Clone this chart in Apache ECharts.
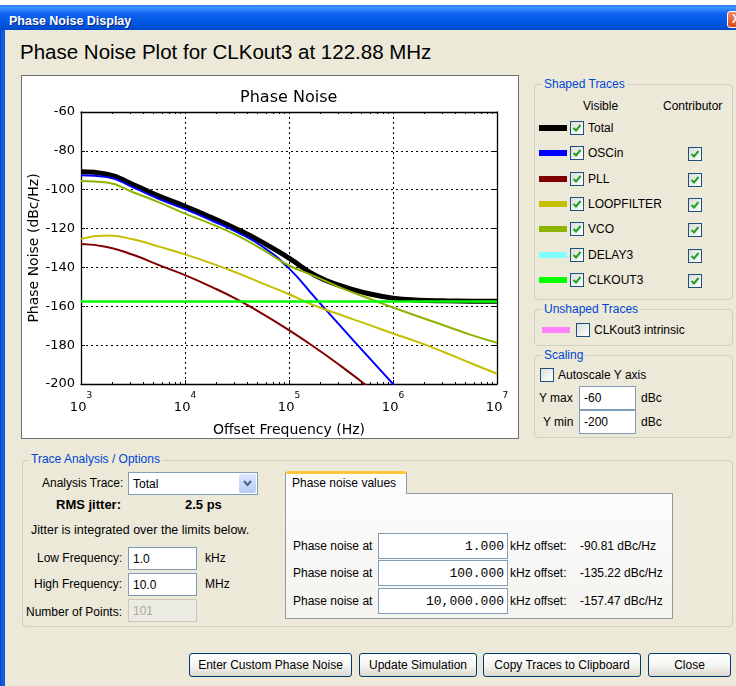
<!DOCTYPE html>
<html>
<head>
<meta charset="utf-8">
<script src="https://cdn.jsdelivr.net/npm/echarts@6/dist/echarts.min.js"></script>
<style>
body{margin:0;width:736px;height:686px;overflow:hidden;background:#ece9d8;position:relative;font-family:'Liberation Sans',Arial,sans-serif;font-size:12px;color:#000}
.a{position:absolute}
.t{position:absolute;white-space:nowrap;line-height:14px;height:14px}
.g{position:absolute;border:1px solid #d0d0bf;border-radius:4px;box-sizing:border-box}
.gt{position:absolute;white-space:nowrap;line-height:14px;background:#ece9d8;color:#0046d5;padding:0 2px}
.cb{position:absolute;width:12px;height:12px;border:1px solid #1c5180;background:linear-gradient(135deg,#dcdcd7,#ffffff)}
.cb svg{position:absolute;left:0;top:0}
.in{position:absolute;box-sizing:border-box;background:#fff;border:1px solid #7f9db9;display:flex;align-items:center;padding-left:4px;white-space:nowrap}
.mono{font-family:'Liberation Mono','DejaVu Sans Mono',monospace;font-size:13px;justify-content:flex-end;padding-right:3px;padding-left:0}
.bt{position:absolute;box-sizing:border-box;height:24px;border:1px solid #003c74;border-radius:3px;background:linear-gradient(#ffffff,#f4f4f0 55%,#dcd7cb);display:flex;align-items:center;justify-content:center;white-space:nowrap}
.sw{position:absolute;width:28px;height:6px}
</style>
</head>
<body>
<div class="a" style="left:0;top:0;width:736px;height:5px;background:#fff"></div>
<div class="a" style="left:0;top:5px;width:736px;height:25px;background:linear-gradient(#2a7af5 0%,#3d95ff 10%,#0f62ee 35%,#0058e6 65%,#0050d8 88%,#0046c4 100%)"></div>
<div class="a" style="left:0;top:30px;width:5px;height:656px;background:linear-gradient(90deg,#0046c4,#1c63e6 60%,#0a50d0)"></div>
<div class="t" style="left:9px;top:14px;color:#fff;font-weight:bold;font-size:12.5px;text-shadow:1px 1px 0 #0a2a80">Phase Noise Display</div>
<div class="a" style="left:727px;top:11px;width:21px;height:17px;box-sizing:border-box;border:1px solid #fff;border-radius:3px;background:linear-gradient(#f08a6a,#d8481e);color:#fff;font-weight:bold;font-size:12px;line-height:15px;padding-left:4px">X</div>

<div class="t" style="left:20px;top:41px;height:22px;line-height:22px;font-size:20.5px">Phase Noise Plot for CLKout3 at 122.88 MHz</div>

<div class="a" style="left:21px;top:75px;width:496px;height:362px;border:1px solid #6e6e6e;background:#fff"></div>
<div id="chart" class="a" style="left:22px;top:76px;width:496px;height:362px"></div>

<!-- Right panel -->
<div class="g" style="left:534px;top:84px;width:199px;height:216px"></div>
<div class="gt" style="left:542px;top:77px">Shaped Traces</div>
<div class="t" style="left:583px;top:99px">Visible</div>
<div class="t" style="left:663px;top:99px">Contributor</div>
<div id="legendRows"></div>

<div class="g" style="left:534px;top:309px;width:199px;height:37px"></div>
<div class="gt" style="left:542px;top:302px">Unshaped Traces</div>

<div class="g" style="left:534px;top:355px;width:199px;height:83px"></div>
<div class="gt" style="left:542px;top:348px">Scaling</div>
<div class="cb" style="left:540px;top:368px"></div>
<div class="t" style="left:558px;top:368px">Autoscale Y axis</div>
<div class="t" style="left:539px;top:391px">Y max</div>
<div class="in" style="left:579px;top:386px;width:57px;height:24px">-60</div>
<div class="t" style="left:641px;top:391px">dBc</div>
<div class="t" style="left:543px;top:415px">Y min</div>
<div class="in" style="left:579px;top:410px;width:57px;height:24px">-200</div>
<div class="t" style="left:641px;top:415px">dBc</div>

<!-- Bottom panel -->
<div class="g" style="left:22px;top:460px;width:711px;height:167px"></div>
<div class="gt" style="left:29px;top:452px">Trace Analysis / Options</div>
<div class="t" style="left:42px;top:476px">Analysis Trace:</div>
<div class="in" style="left:128px;top:472px;width:130px;height:23px">Total</div>
<div class="a" style="left:239px;top:474px;width:17px;height:19px;border-radius:2px;background:linear-gradient(#dbe6fd,#b6cbf7)"><svg width="17" height="19"><polyline points="5,7 8.5,11 12,7" fill="none" stroke="#4d6185" stroke-width="2"/></svg></div>
<div class="t" style="left:56px;top:498px;font-weight:bold;font-size:13px">RMS jitter:</div>
<div class="t" style="left:185px;top:498px;font-weight:bold;font-size:13px">2.5 ps</div>
<div class="t" style="left:31px;top:523px;font-size:12.5px">Jitter is integrated over the limits below.</div>
<div class="t" style="left:37px;top:551px">Low Frequency:</div>
<div class="in" style="left:128px;top:547px;width:69px;height:23px">1.0</div>
<div class="t" style="left:205px;top:551px">kHz</div>
<div class="t" style="left:34px;top:577px">High Frequency:</div>
<div class="in" style="left:128px;top:573px;width:69px;height:23px">10.0</div>
<div class="t" style="left:205px;top:577px">MHz</div>
<div class="t" style="left:26px;top:605px">Number of Points:</div>
<div class="in" style="left:128px;top:599px;width:69px;height:23px;background:#ebebe4;border-color:#c9c7ba;color:#aca899">101</div>

<div class="a" style="left:285px;top:493px;width:388px;height:126px;box-sizing:border-box;border:1px solid #919b9c;background:linear-gradient(#fcfcfe,#f4f3ee)"></div>
<div class="a" style="left:285px;top:471px;width:122px;height:23px;box-sizing:border-box;border:1px solid #919b9c;border-bottom:none;border-top:3px solid #ffc83c;border-radius:3px 3px 0 0;background:#fcfcfe"></div>
<div class="t" style="left:292px;top:476px">Phase noise values</div>
<div id="pnRows"></div>

<div class="bt" style="left:189px;top:653px;width:163px">Enter Custom Phase Noise</div>
<div class="bt" style="left:359px;top:653px;width:118px">Update Simulation</div>
<div class="bt" style="left:483px;top:653px;width:158px">Copy Traces to Clipboard</div>
<div class="bt" style="left:648px;top:653px;width:83px">Close</div>

<script>
// ---- Data, quarter-decade offsets ----
const freqHz       = [1000, 1778, 3162, 5623, 10000, 17783, 31623, 56234, 100000, 177828, 316228, 562341, 1000000, 1778279, 3162278, 5623413, 10000000];
const totalDb      = [-90.81, -92.0, -97.3, -103.3, -108.5, -114.2, -120.3, -127.2, -135.22, -144.0, -149.5, -153.3, -155.8, -156.85, -157.2, -157.4, -157.47];
const oscinDb      = [-92.5, -93.5, -98.8, -104.8, -110.0, -115.7, -121.8, -129.5, -140.5, -155.5, -170.5, -185.3, -200.0, -215.0, null, null, null];
const pllDb        = [-128.0, -129.5, -133.5, -138.8, -144.0, -149.9, -156.4, -164.0, -172.3, -181.2, -190.8, -201.0, -212.0, null, null, null, null];
const loopfilterDb = [-125.3, -123.6, -125.5, -129.3, -133.3, -137.8, -142.8, -148.3, -153.8, -159.7, -164.5, -169.2, -174.0, -178.6, -183.8, -189.3, -194.7];
const vcoDb        = [-95.5, -96.3, -101.3, -106.5, -112.3, -117.6, -123.5, -131.0, -139.0, -144.6, -150.5, -155.6, -160.6, -165.4, -170.0, -174.7, -178.8];
const clkout3Db    = [-157.5, -157.5, -157.5, -157.5, -157.5, -157.5, -157.5, -157.5, -157.5, -157.5, -157.5, -157.5, -157.5, -157.5, -157.5, -157.5, -157.5];

const traceNames   = ['Total', 'OSCin', 'PLL', 'LOOPFILTER', 'VCO', 'DELAY3', 'CLKOUT3'];
const traceColors  = ['#000000', '#0000ff', '#800000', '#c4bf00', '#8cb400', '#80ffff', '#00ff00'];
const traceWidths  = [5, 2, 2, 2, 2, 2, 2.5];
const traceValues  = [totalDb, oscinDb, pllDb, loopfilterDb, vcoDb, null, clkout3Db];

const xTickValues  = [1e3, 1e4, 1e5, 1e6, 1e7];
const xTickExp     = ['3', '4', '5', '6', '7'];
const yTickLabels  = ['-200', '-180', '-160', '-140', '-120', '-100', '-80', '-60'];

const pnOffsetsKHz = ['1.000', '100.000', '10,000.000'];
const pnValues     = ['-90.81 dBc/Hz', '-135.22 dBc/Hz', '-157.47 dBc/Hz'];

// ---- UI bits ----
const check = '<svg width="12" height="12"><polyline points="2.5,6 5,8.5 9.5,3" fill="none" stroke="#21a121" stroke-width="2"/></svg>';
let lr = '';
traceNames.forEach((n, i) => {
  const c = 128 + i * 25.3;
  lr += '<div class="sw" style="left:539px;top:' + (c - 3) + 'px;background:' + traceColors[i] + '"></div>';
  lr += '<div class="cb" style="left:570px;top:' + (c - 7) + 'px">' + check + '</div>';
  lr += '<div class="t" style="left:588px;top:' + (c - 7) + 'px">' + n + '</div>';
  if (i > 0) lr += '<div class="cb" style="left:688px;top:' + (c - 6) + 'px">' + check + '</div>';
});
lr += '<div class="sw" style="left:542px;top:327px;background:#ff80ff"></div>';
lr += '<div class="cb" style="left:576px;top:323px"></div>';
lr += '<div class="t" style="left:594px;top:323px">CLKout3 intrinsic</div>';
document.getElementById('legendRows').innerHTML = lr;

let pr = '';
[546, 573, 601].forEach((c, i) => {
  pr += '<div class="t" style="left:293px;top:' + (c - 7) + 'px">Phase noise at</div>';
  pr += '<div class="in mono" style="left:378px;top:' + (c - 13) + 'px;width:130px;height:26px">' + pnOffsetsKHz[i] + '</div>';
  pr += '<div class="t" style="left:510px;top:' + (c - 7) + 'px">kHz offset:</div>';
  pr += '<div class="t" style="left:580px;top:' + (c - 7) + 'px">' + pnValues[i] + '</div>';
});
document.getElementById('pnRows').innerHTML = pr;

// ---- Chart ----
const minorTicks = [];
for (let d = 3; d < 7; d++) for (let k = 2; k <= 9; k++) minorTicks.push(k * Math.pow(10, d));

const F = 'DejaVu Sans';
const series = [];
traceNames.forEach((n, i) => {
  if (!traceValues[i]) return;
  series.push({
    name: n, type: 'line', showSymbol: false, smooth: 0.5,
    data: freqHz.map((f, j) => [f, traceValues[i][j]]),
    lineStyle: { color: traceColors[i], width: traceWidths[i] },
    itemStyle: { color: traceColors[i] },
    emphasis: { disabled: true }
  });
});

const chart = echarts.init(document.getElementById('chart'));
chart.setOption({
  animation: false,
  backgroundColor: '#fff',
  title: { text: 'Phase Noise', left: 266.7, top: 14, textAlign: 'center', padding: 0,
    textStyle: { fontFamily: F, fontSize: 16, fontWeight: 'normal', color: '#000' } },
  grid: { left: 59, right: 21, top: 36, bottom: 54, containLabel: false, outerBoundsMode: 'none' },
  xAxis: [
    { type: 'log', logBase: 10, min: 1e3, max: 1e7, position: 'bottom',
      name: 'Offset Frequency (Hz)', nameLocation: 'middle', nameGap: 39, nameMoveOverlap: false,
      nameTextStyle: { fontFamily: F, fontSize: 14, color: '#000' },
      axisLine: { show: true, onZero: false, lineStyle: { color: '#000', width: 1.3 } },
      axisTick: { show: true, inside: true, length: 4, lineStyle: { color: '#000' } },
      axisLabel: { margin: 7, showMinLabel: true, showMaxLabel: true,
        formatter: v => { const i = xTickValues.findIndex(t => Math.abs(Math.log10(t) - Math.log10(v)) < 1e-6); return i < 0 ? '' : '{b|10}{s|' + xTickExp[i] + '}'; },
        rich: { b: { fontFamily: F, fontSize: 13, color: '#000', padding: [10, 0, 0, 0], verticalAlign: 'bottom' },
                s: { fontFamily: F, fontSize: 9, color: '#000', verticalAlign: 'top' } } },
      splitLine: { show: true, lineStyle: { color: '#000', type: [2, 3], width: 1 } } },
    { type: 'log', logBase: 10, min: 1e3, max: 1e7, position: 'bottom',
      axisLine: { show: false, onZero: false },
      axisTick: { show: true, inside: true, length: 2, customValues: minorTicks, lineStyle: { color: '#000' } },
      axisLabel: { show: false }, splitLine: { show: false } },
    { type: 'log', logBase: 10, min: 1e3, max: 1e7, position: 'top',
      axisLine: { show: true, onZero: false, lineStyle: { color: '#000', width: 1.3 } },
      axisTick: { show: true, inside: true, length: 2, customValues: minorTicks, lineStyle: { color: '#000' } },
      axisLabel: { show: false }, splitLine: { show: false } }
  ],
  yAxis: [
    { type: 'value', min: -200, max: -60, interval: 20, position: 'left',
      name: 'Phase Noise (dBc/Hz)', nameLocation: 'middle', nameGap: 40, nameRotate: 90, nameMoveOverlap: false,
      nameTextStyle: { fontFamily: F, fontSize: 14, color: '#000' },
      axisLine: { show: true, onZero: false, lineStyle: { color: '#000', width: 1.3 } },
      axisTick: { show: true, inside: true, length: 4, lineStyle: { color: '#000' } },
      axisLabel: { margin: 6, fontFamily: F, fontSize: 13, color: '#000',
        formatter: v => yTickLabels.find(l => Number(l) === v) || '' },
      splitLine: { show: true, lineStyle: { color: '#000', type: [2, 3], width: 1 } } },
    { type: 'value', min: -200, max: -60, interval: 20, position: 'right',
      axisLine: { show: true, onZero: false, lineStyle: { color: '#000', width: 1.3 } },
      axisTick: { show: true, inside: true, length: 4, lineStyle: { color: '#000' } },
      axisLabel: { show: false }, splitLine: { show: false } }
  ],
  series: series
});
</script>
</body>
</html>
